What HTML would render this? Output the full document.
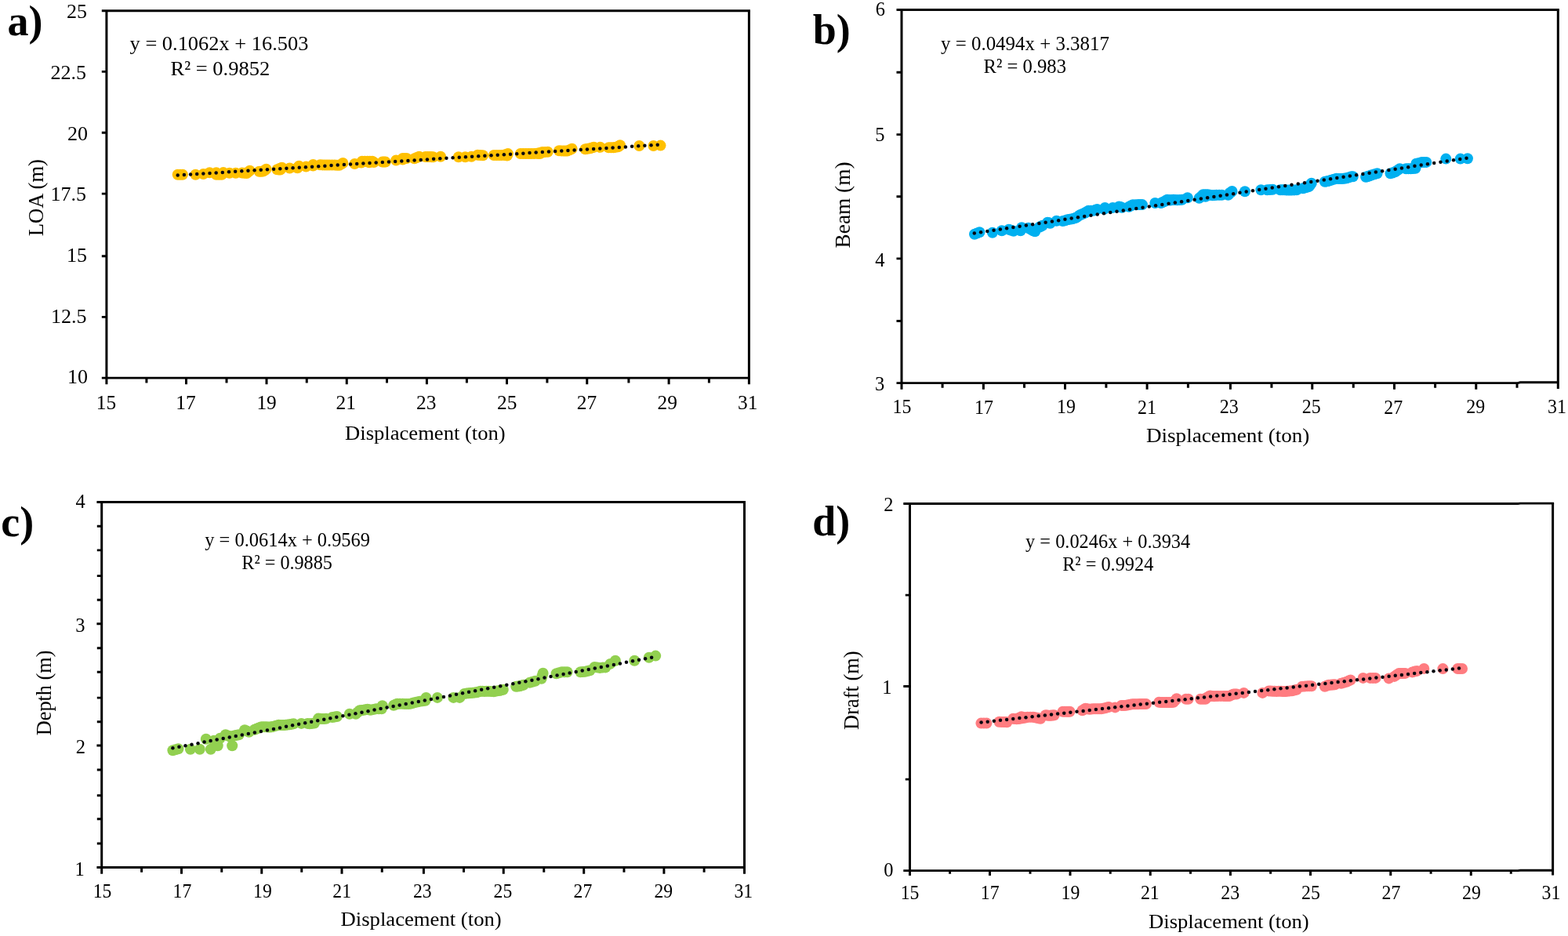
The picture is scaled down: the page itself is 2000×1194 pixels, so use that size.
<!DOCTYPE html>
<html lang="en">
<head>
<meta charset="utf-8">
<title>Hull dimensions versus displacement</title>
<style>
html,body{margin:0;padding:0;background:#fff;}
body{width:2000px;height:1194px;overflow:hidden;}
svg{display:block;}
text{white-space:pre;}
</style>
</head>
<body>
<svg width="2000" height="1194" viewBox="0 0 2000 1194" role="img" aria-label="Regression of LOA, beam, depth and draft against displacement">
<rect width="2000" height="1194" fill="#fff"/>
<g id="panel-a">
<g fill="#FFC000">
<circle cx="226.7" cy="222.8" r="7.0"/>
<circle cx="229.8" cy="222.8" r="7.0"/>
<circle cx="232.9" cy="222.8" r="7.0"/>
<circle cx="249.4" cy="222.8" r="7.0"/>
<circle cx="259.3" cy="222.1" r="7.0"/>
<circle cx="267.3" cy="220.3" r="7.0"/>
<circle cx="275.8" cy="220.3" r="7.0"/>
<circle cx="275.8" cy="222.8" r="7.0"/>
<circle cx="279.3" cy="222.8" r="7.0"/>
<circle cx="282.8" cy="222.8" r="7.0"/>
<circle cx="283.8" cy="221.5" r="7.0"/>
<circle cx="284.8" cy="220.1" r="7.0"/>
<circle cx="292.7" cy="220.8" r="7.0"/>
<circle cx="300.7" cy="220.8" r="7.0"/>
<circle cx="308.7" cy="220.6" r="7.0"/>
<circle cx="311.7" cy="220.8" r="7.0"/>
<circle cx="314.7" cy="221" r="7.0"/>
<circle cx="316.6" cy="219.4" r="7.0"/>
<circle cx="318.6" cy="217.8" r="7.0"/>
<circle cx="330.6" cy="218.8" r="7.0"/>
<circle cx="333.1" cy="218.7" r="7.0"/>
<circle cx="335.6" cy="218.5" r="7.0"/>
<circle cx="337.6" cy="217.2" r="7.0"/>
<circle cx="339.6" cy="215.8" r="7.0"/>
<circle cx="353.5" cy="216.3" r="7.0"/>
<circle cx="355.5" cy="216.4" r="7.0"/>
<circle cx="356.5" cy="215.1" r="7.0"/>
<circle cx="357.5" cy="216.5" r="7.0"/>
<circle cx="358.5" cy="215.2" r="7.0"/>
<circle cx="359.5" cy="213.8" r="7.0"/>
<circle cx="369.5" cy="214.5" r="7.0"/>
<circle cx="379.4" cy="214.3" r="7.0"/>
<circle cx="380.4" cy="213.1" r="7.0"/>
<circle cx="381.4" cy="211.8" r="7.0"/>
<circle cx="390.4" cy="212.6" r="7.0"/>
<circle cx="399.4" cy="210" r="7.0"/>
<circle cx="399.4" cy="211.6" r="7.0"/>
<circle cx="408.3" cy="210.3" r="7.0"/>
<circle cx="411.2" cy="210.4" r="7.0"/>
<circle cx="414" cy="210.6" r="7.0"/>
<circle cx="417" cy="210.6" r="7.0"/>
<circle cx="420" cy="210.6" r="7.0"/>
<circle cx="423.5" cy="210.6" r="7.0"/>
<circle cx="427" cy="210.6" r="7.0"/>
<circle cx="429.9" cy="210.7" r="7.0"/>
<circle cx="432.9" cy="210.8" r="7.0"/>
<circle cx="435.2" cy="209.4" r="7.0"/>
<circle cx="437.4" cy="208" r="7.0"/>
<circle cx="452.4" cy="209" r="7.0"/>
<circle cx="460.8" cy="207.6" r="7.0"/>
<circle cx="461.8" cy="205.8" r="7.0"/>
<circle cx="465.3" cy="205.8" r="7.0"/>
<circle cx="468.8" cy="205.8" r="7.0"/>
<circle cx="470.8" cy="207.3" r="7.0"/>
<circle cx="471.8" cy="205.8" r="7.0"/>
<circle cx="472.8" cy="206.5" r="7.0"/>
<circle cx="474.8" cy="205.8" r="7.0"/>
<circle cx="476.8" cy="207" r="7.0"/>
<circle cx="487.7" cy="206.6" r="7.0"/>
<circle cx="489.7" cy="206.6" r="7.0"/>
<circle cx="491.7" cy="206.6" r="7.0"/>
<circle cx="505.2" cy="204.5" r="7.0"/>
<circle cx="513.7" cy="202" r="7.0"/>
<circle cx="513.7" cy="203.6" r="7.0"/>
<circle cx="516.1" cy="202" r="7.0"/>
<circle cx="518.6" cy="202" r="7.0"/>
<circle cx="528.6" cy="202.3" r="7.0"/>
<circle cx="531.6" cy="201" r="7.0"/>
<circle cx="534.6" cy="199.8" r="7.0"/>
<circle cx="542.6" cy="200.1" r="7.0"/>
<circle cx="545.5" cy="200.1" r="7.0"/>
<circle cx="548.5" cy="200.1" r="7.0"/>
<circle cx="550.5" cy="200.2" r="7.0"/>
<circle cx="552.5" cy="200.3" r="7.0"/>
<circle cx="562" cy="199.8" r="7.0"/>
<circle cx="584.9" cy="200.3" r="7.0"/>
<circle cx="593.4" cy="200.3" r="7.0"/>
<circle cx="601.3" cy="199.8" r="7.0"/>
<circle cx="609.3" cy="197.8" r="7.0"/>
<circle cx="612.7" cy="198" r="7.0"/>
<circle cx="616" cy="198.3" r="7.0"/>
<circle cx="629.9" cy="198" r="7.0"/>
<circle cx="633.4" cy="198" r="7.0"/>
<circle cx="636.9" cy="198" r="7.0"/>
<circle cx="639.9" cy="197.9" r="7.0"/>
<circle cx="642.9" cy="197.8" r="7.0"/>
<circle cx="644.9" cy="198.1" r="7.0"/>
<circle cx="645.4" cy="196.9" r="7.0"/>
<circle cx="646.9" cy="198.5" r="7.0"/>
<circle cx="647.9" cy="196.1" r="7.0"/>
<circle cx="663.8" cy="196" r="7.0"/>
<circle cx="667.3" cy="196" r="7.0"/>
<circle cx="670.8" cy="196" r="7.0"/>
<circle cx="674.3" cy="196" r="7.0"/>
<circle cx="677.8" cy="196" r="7.0"/>
<circle cx="681.3" cy="195.9" r="7.0"/>
<circle cx="684.7" cy="195.8" r="7.0"/>
<circle cx="686.7" cy="195.9" r="7.0"/>
<circle cx="688.2" cy="194.9" r="7.0"/>
<circle cx="688.7" cy="196" r="7.0"/>
<circle cx="690.2" cy="195" r="7.0"/>
<circle cx="691.7" cy="194" r="7.0"/>
<circle cx="695.2" cy="193.9" r="7.0"/>
<circle cx="698.7" cy="193.8" r="7.0"/>
<circle cx="713.1" cy="192.3" r="7.0"/>
<circle cx="715.9" cy="192.4" r="7.0"/>
<circle cx="718.6" cy="192.5" r="7.0"/>
<circle cx="721.1" cy="192.5" r="7.0"/>
<circle cx="723.6" cy="192.6" r="7.0"/>
<circle cx="726.6" cy="191.2" r="7.0"/>
<circle cx="729.6" cy="189.8" r="7.0"/>
<circle cx="746.5" cy="190.3" r="7.0"/>
<circle cx="749.5" cy="189.8" r="7.0"/>
<circle cx="752.5" cy="189.3" r="7.0"/>
<circle cx="755" cy="188.5" r="7.0"/>
<circle cx="757.5" cy="187.8" r="7.0"/>
<circle cx="765.5" cy="187.8" r="7.0"/>
<circle cx="776.4" cy="188.3" r="7.0"/>
<circle cx="779.4" cy="188.3" r="7.0"/>
<circle cx="782.4" cy="188.3" r="7.0"/>
<circle cx="785.4" cy="187.8" r="7.0"/>
<circle cx="788.4" cy="187.3" r="7.0"/>
<circle cx="789.6" cy="186.3" r="7.0"/>
<circle cx="790.9" cy="185.3" r="7.0"/>
<circle cx="815.3" cy="186" r="7.0"/>
<circle cx="833.5" cy="186" r="7.0"/>
<circle cx="842.5" cy="185.6" r="7.0"/>
</g>
<g fill="#06060f">
<circle cx="226.7" cy="223.5" r="2.25"/>
<circle cx="234.86" cy="222.98" r="2.25"/>
<circle cx="243.02" cy="222.47" r="2.25"/>
<circle cx="251.18" cy="221.95" r="2.25"/>
<circle cx="259.34" cy="221.44" r="2.25"/>
<circle cx="267.5" cy="220.92" r="2.25"/>
<circle cx="275.66" cy="220.4" r="2.25"/>
<circle cx="283.82" cy="219.89" r="2.25"/>
<circle cx="291.98" cy="219.37" r="2.25"/>
<circle cx="300.14" cy="218.86" r="2.25"/>
<circle cx="308.3" cy="218.34" r="2.25"/>
<circle cx="316.46" cy="217.82" r="2.25"/>
<circle cx="324.62" cy="217.31" r="2.25"/>
<circle cx="332.78" cy="216.79" r="2.25"/>
<circle cx="340.94" cy="216.28" r="2.25"/>
<circle cx="349.1" cy="215.76" r="2.25"/>
<circle cx="357.26" cy="215.24" r="2.25"/>
<circle cx="365.42" cy="214.73" r="2.25"/>
<circle cx="373.58" cy="214.21" r="2.25"/>
<circle cx="381.74" cy="213.7" r="2.25"/>
<circle cx="389.9" cy="213.18" r="2.25"/>
<circle cx="398.06" cy="212.66" r="2.25"/>
<circle cx="406.22" cy="212.15" r="2.25"/>
<circle cx="414.38" cy="211.63" r="2.25"/>
<circle cx="422.54" cy="211.12" r="2.25"/>
<circle cx="430.7" cy="210.6" r="2.25"/>
<circle cx="438.86" cy="210.08" r="2.25"/>
<circle cx="447.02" cy="209.57" r="2.25"/>
<circle cx="455.18" cy="209.05" r="2.25"/>
<circle cx="463.34" cy="208.54" r="2.25"/>
<circle cx="471.5" cy="208.02" r="2.25"/>
<circle cx="479.66" cy="207.5" r="2.25"/>
<circle cx="487.82" cy="206.99" r="2.25"/>
<circle cx="495.98" cy="206.47" r="2.25"/>
<circle cx="504.14" cy="205.96" r="2.25"/>
<circle cx="512.3" cy="205.44" r="2.25"/>
<circle cx="520.46" cy="204.92" r="2.25"/>
<circle cx="528.62" cy="204.41" r="2.25"/>
<circle cx="536.78" cy="203.89" r="2.25"/>
<circle cx="544.94" cy="203.38" r="2.25"/>
<circle cx="553.1" cy="202.86" r="2.25"/>
<circle cx="561.26" cy="202.34" r="2.25"/>
<circle cx="569.42" cy="201.83" r="2.25"/>
<circle cx="577.58" cy="201.31" r="2.25"/>
<circle cx="585.74" cy="200.8" r="2.25"/>
<circle cx="593.9" cy="200.28" r="2.25"/>
<circle cx="602.06" cy="199.76" r="2.25"/>
<circle cx="610.22" cy="199.25" r="2.25"/>
<circle cx="618.38" cy="198.73" r="2.25"/>
<circle cx="626.54" cy="198.22" r="2.25"/>
<circle cx="634.7" cy="197.7" r="2.25"/>
<circle cx="642.86" cy="197.18" r="2.25"/>
<circle cx="651.02" cy="196.67" r="2.25"/>
<circle cx="659.18" cy="196.15" r="2.25"/>
<circle cx="667.34" cy="195.64" r="2.25"/>
<circle cx="675.5" cy="195.12" r="2.25"/>
<circle cx="683.66" cy="194.6" r="2.25"/>
<circle cx="691.82" cy="194.09" r="2.25"/>
<circle cx="699.98" cy="193.57" r="2.25"/>
<circle cx="708.14" cy="193.06" r="2.25"/>
<circle cx="716.3" cy="192.54" r="2.25"/>
<circle cx="724.46" cy="192.02" r="2.25"/>
<circle cx="732.62" cy="191.51" r="2.25"/>
<circle cx="740.78" cy="190.99" r="2.25"/>
<circle cx="748.94" cy="190.48" r="2.25"/>
<circle cx="757.1" cy="189.96" r="2.25"/>
<circle cx="765.26" cy="189.44" r="2.25"/>
<circle cx="773.42" cy="188.93" r="2.25"/>
<circle cx="781.58" cy="188.41" r="2.25"/>
<circle cx="789.74" cy="187.9" r="2.25"/>
<circle cx="797.9" cy="187.38" r="2.25"/>
<circle cx="806.06" cy="186.86" r="2.25"/>
<circle cx="814.22" cy="186.35" r="2.25"/>
<circle cx="822.38" cy="185.83" r="2.25"/>
<circle cx="830.54" cy="185.32" r="2.25"/>
<circle cx="838.7" cy="184.8" r="2.25"/>
</g>
<g stroke="#000" fill="none">
<path d="M129.8 13.8 H956.9" stroke-width="2.9"/>
<path d="M129.8 482.1 H955.4" stroke-width="2.9"/>
<path d="M135.9 13.8 V490.3 M955.4 13.8 V490.3" stroke-width="3.0"/>
<path d="M186.9 482.1v6.4M237.5 482.1v8.2M289 482.1v6.4M340 482.1v8.2M391.25 482.1v6.4M442.25 482.1v8.2M493.5 482.1v6.4M544.4 482.1v8.2M595.4 482.1v6.4M646.5 482.1v8.2M697.9 482.1v6.4M748.75 482.1v8.2M801.9 482.1v6.4M853.1 482.1v8.2M904.4 482.1v6.4" stroke-width="3.0"/>
<path d="M135.9 91.4h-6.1M135.9 169.2h-6.1M135.9 247.1h-6.1M135.9 326.8h-6.1M135.9 404.4h-6.1" stroke-width="2.9"/>
</g>
<g font-family="'Liberation Serif','DejaVu Serif',serif" fill="#000">
<text x="9.5" y="44.9" font-size="54" font-weight="bold">a)</text>
<g font-size="25.8">
<text transform="translate(84.95 23.4) scale(1.009 1)">25</text>
<text transform="translate(64.45 100.95) scale(1.009 1)">22.5</text>
<text transform="translate(86.05 178.85) scale(1.009 1)">20</text>
<text transform="translate(64.45 256.35) scale(1.009 1)">17.5</text>
<text transform="translate(85 333.95) scale(1.009 1)">15</text>
<text transform="translate(64.95 411.95) scale(1.009 1)">12.5</text>
<text transform="translate(85.95 489.45) scale(1.009 1)">10</text>
</g>
<g font-size="25.2">
<text transform="translate(122.75 522.1) scale(1.007 1)">15</text>
<text transform="translate(224.32 522.35) scale(1.007 1)">17</text>
<text transform="translate(327.38 522.1) scale(1.007 1)">19</text>
<text transform="translate(428.57 522.35) scale(1.007 1)">21</text>
<text transform="translate(531.12 522.1) scale(1.007 1)">23</text>
<text transform="translate(633.95 522.1) scale(1.007 1)">25</text>
<text transform="translate(735.75 522.35) scale(1.007 1)">27</text>
<text transform="translate(838.62 522.1) scale(1.007 1)">29</text>
<text transform="translate(940.95 522.1) scale(1.007 1)">31</text>
</g>
<g font-size="25.8">
<text x="440.08" y="560.6" textLength="204.65" lengthAdjust="spacingAndGlyphs">Displacement (ton)</text>
<text x="165.59" y="63.75" textLength="227.76" lengthAdjust="spacingAndGlyphs">y = 0.1062x + 16.503</text>
<text x="217.58" y="96.25" textLength="126.65" lengthAdjust="spacingAndGlyphs">R² = 0.9852</text>
</g>
<text transform="translate(54.7 301.24) rotate(-90)" font-size="26.8" textLength="98.22" lengthAdjust="spacingAndGlyphs">LOA (m)</text>
</g>
</g>
<g id="panel-b">
<g fill="#00B0F0">
<circle cx="1243" cy="298.7" r="7.0"/>
<circle cx="1246.2" cy="297.5" r="7.0"/>
<circle cx="1249.4" cy="296.3" r="7.0"/>
<circle cx="1265.9" cy="296.7" r="7.0"/>
<circle cx="1277.8" cy="294.3" r="7.0"/>
<circle cx="1286.8" cy="292.8" r="7.0"/>
<circle cx="1289.8" cy="293.8" r="7.0"/>
<circle cx="1292.8" cy="294.8" r="7.0"/>
<circle cx="1301.7" cy="294.3" r="7.0"/>
<circle cx="1302.5" cy="292.3" r="7.0"/>
<circle cx="1303.2" cy="290.3" r="7.0"/>
<circle cx="1311.7" cy="290.8" r="7.0"/>
<circle cx="1314.2" cy="292.3" r="7.0"/>
<circle cx="1316.7" cy="293.8" r="7.0"/>
<circle cx="1318.4" cy="294.5" r="7.0"/>
<circle cx="1320.2" cy="295.3" r="7.0"/>
<circle cx="1325.7" cy="289.8" r="7.0"/>
<circle cx="1327.7" cy="288.8" r="7.0"/>
<circle cx="1329.7" cy="287.8" r="7.0"/>
<circle cx="1336.1" cy="283.8" r="7.0"/>
<circle cx="1337.9" cy="284.3" r="7.0"/>
<circle cx="1339.6" cy="284.8" r="7.0"/>
<circle cx="1347.6" cy="281.8" r="7.0"/>
<circle cx="1355.6" cy="282" r="7.0"/>
<circle cx="1358.6" cy="281.2" r="7.0"/>
<circle cx="1361.5" cy="280.3" r="7.0"/>
<circle cx="1364.5" cy="279.8" r="7.0"/>
<circle cx="1367.5" cy="279.3" r="7.0"/>
<circle cx="1370" cy="278.6" r="7.0"/>
<circle cx="1372.5" cy="277.8" r="7.0"/>
<circle cx="1375" cy="276.1" r="7.0"/>
<circle cx="1377.5" cy="274.3" r="7.0"/>
<circle cx="1380" cy="273.3" r="7.0"/>
<circle cx="1382.5" cy="272.3" r="7.0"/>
<circle cx="1384.5" cy="271.3" r="7.0"/>
<circle cx="1385.5" cy="270.6" r="7.0"/>
<circle cx="1388.4" cy="268.8" r="7.0"/>
<circle cx="1391.4" cy="268.8" r="7.0"/>
<circle cx="1394.4" cy="268.8" r="7.0"/>
<circle cx="1396.9" cy="267.9" r="7.0"/>
<circle cx="1399.4" cy="266.9" r="7.0"/>
<circle cx="1408.4" cy="266.9" r="7.0"/>
<circle cx="1409.4" cy="264.9" r="7.0"/>
<circle cx="1419.3" cy="264.9" r="7.0"/>
<circle cx="1427.3" cy="263.4" r="7.0"/>
<circle cx="1429.2" cy="264.1" r="7.0"/>
<circle cx="1431" cy="264.8" r="7.0"/>
<circle cx="1440" cy="263.8" r="7.0"/>
<circle cx="1442.5" cy="262.5" r="7.0"/>
<circle cx="1444.9" cy="261.3" r="7.0"/>
<circle cx="1448.4" cy="261.2" r="7.0"/>
<circle cx="1451.9" cy="261.1" r="7.0"/>
<circle cx="1454.4" cy="261.1" r="7.0"/>
<circle cx="1456.9" cy="261.1" r="7.0"/>
<circle cx="1473.3" cy="259" r="7.0"/>
<circle cx="1480.8" cy="259" r="7.0"/>
<circle cx="1482.8" cy="258.1" r="7.0"/>
<circle cx="1484.8" cy="257.3" r="7.0"/>
<circle cx="1486.8" cy="256" r="7.0"/>
<circle cx="1488.8" cy="254.8" r="7.0"/>
<circle cx="1490.8" cy="255.1" r="7.0"/>
<circle cx="1492.8" cy="255.5" r="7.0"/>
<circle cx="1494.8" cy="255.1" r="7.0"/>
<circle cx="1496.8" cy="254.8" r="7.0"/>
<circle cx="1499.3" cy="255" r="7.0"/>
<circle cx="1501.7" cy="255.3" r="7.0"/>
<circle cx="1504.7" cy="255" r="7.0"/>
<circle cx="1507.7" cy="254.8" r="7.0"/>
<circle cx="1514.7" cy="252.3" r="7.0"/>
<circle cx="1529.6" cy="252.8" r="7.0"/>
<circle cx="1532.1" cy="250.6" r="7.0"/>
<circle cx="1534.6" cy="248.3" r="7.0"/>
<circle cx="1536.1" cy="249.6" r="7.0"/>
<circle cx="1537.6" cy="248.3" r="7.0"/>
<circle cx="1537.6" cy="250.8" r="7.0"/>
<circle cx="1539.1" cy="249.6" r="7.0"/>
<circle cx="1540.6" cy="248.3" r="7.0"/>
<circle cx="1543.6" cy="248.8" r="7.0"/>
<circle cx="1546.6" cy="249.3" r="7.0"/>
<circle cx="1549.1" cy="249.1" r="7.0"/>
<circle cx="1551.6" cy="248.8" r="7.0"/>
<circle cx="1555.1" cy="248.8" r="7.0"/>
<circle cx="1558.5" cy="248.8" r="7.0"/>
<circle cx="1566.5" cy="248.8" r="7.0"/>
<circle cx="1567.5" cy="247.6" r="7.0"/>
<circle cx="1568.5" cy="246.3" r="7.0"/>
<circle cx="1570" cy="245.2" r="7.0"/>
<circle cx="1571.5" cy="244" r="7.0"/>
<circle cx="1587.9" cy="244.3" r="7.0"/>
<circle cx="1608.4" cy="242.3" r="7.0"/>
<circle cx="1616.3" cy="242.3" r="7.0"/>
<circle cx="1619.8" cy="242.1" r="7.0"/>
<circle cx="1623.3" cy="241.8" r="7.0"/>
<circle cx="1633" cy="242.2" r="7.0"/>
<circle cx="1635.5" cy="242.2" r="7.0"/>
<circle cx="1638" cy="242.2" r="7.0"/>
<circle cx="1640.5" cy="242.4" r="7.0"/>
<circle cx="1642.9" cy="242.5" r="7.0"/>
<circle cx="1645.4" cy="242.5" r="7.0"/>
<circle cx="1647.9" cy="242.5" r="7.0"/>
<circle cx="1650.9" cy="242.4" r="7.0"/>
<circle cx="1653.9" cy="242.2" r="7.0"/>
<circle cx="1661.9" cy="240.2" r="7.0"/>
<circle cx="1664.4" cy="239.5" r="7.0"/>
<circle cx="1666.9" cy="238.7" r="7.0"/>
<circle cx="1668.4" cy="238.2" r="7.0"/>
<circle cx="1669.9" cy="237.7" r="7.0"/>
<circle cx="1671.3" cy="235.8" r="7.0"/>
<circle cx="1672.8" cy="233.8" r="7.0"/>
<circle cx="1689.8" cy="231.8" r="7.0"/>
<circle cx="1691.8" cy="231.4" r="7.0"/>
<circle cx="1693.8" cy="231" r="7.0"/>
<circle cx="1695.8" cy="230.4" r="7.0"/>
<circle cx="1697.8" cy="229.8" r="7.0"/>
<circle cx="1701.2" cy="228.8" r="7.0"/>
<circle cx="1704.7" cy="227.8" r="7.0"/>
<circle cx="1707.2" cy="227.9" r="7.0"/>
<circle cx="1709.7" cy="228" r="7.0"/>
<circle cx="1711.7" cy="227.9" r="7.0"/>
<circle cx="1713.7" cy="227.8" r="7.0"/>
<circle cx="1715.7" cy="227.5" r="7.0"/>
<circle cx="1717.7" cy="227.3" r="7.0"/>
<circle cx="1720.7" cy="226.3" r="7.0"/>
<circle cx="1723.7" cy="225.3" r="7.0"/>
<circle cx="1725.7" cy="225.3" r="7.0"/>
<circle cx="1742.1" cy="225.8" r="7.0"/>
<circle cx="1743.8" cy="225.3" r="7.0"/>
<circle cx="1745.6" cy="224.8" r="7.0"/>
<circle cx="1747.6" cy="224" r="7.0"/>
<circle cx="1749.6" cy="223.3" r="7.0"/>
<circle cx="1753.1" cy="222.3" r="7.0"/>
<circle cx="1756.6" cy="221.3" r="7.0"/>
<circle cx="1773.5" cy="221.3" r="7.0"/>
<circle cx="1776.5" cy="220.3" r="7.0"/>
<circle cx="1779.5" cy="219.3" r="7.0"/>
<circle cx="1782.5" cy="217.3" r="7.0"/>
<circle cx="1785.4" cy="215.3" r="7.0"/>
<circle cx="1793.4" cy="215.3" r="7.0"/>
<circle cx="1796.4" cy="215.3" r="7.0"/>
<circle cx="1799.4" cy="215.3" r="7.0"/>
<circle cx="1802.4" cy="215.1" r="7.0"/>
<circle cx="1805.4" cy="214.8" r="7.0"/>
<circle cx="1805.9" cy="211.8" r="7.0"/>
<circle cx="1806.4" cy="208.8" r="7.0"/>
<circle cx="1809.9" cy="207.9" r="7.0"/>
<circle cx="1813.4" cy="206.9" r="7.0"/>
<circle cx="1816.3" cy="206.9" r="7.0"/>
<circle cx="1819.3" cy="206.9" r="7.0"/>
<circle cx="1844.3" cy="202.6" r="7.0"/>
<circle cx="1862.7" cy="202.6" r="7.0"/>
<circle cx="1871.9" cy="202.3" r="7.0"/>
</g>
<g fill="#06060f">
<circle cx="1242.8" cy="297.5" r="2.25"/>
<circle cx="1251.06" cy="296.24" r="2.25"/>
<circle cx="1259.32" cy="294.98" r="2.25"/>
<circle cx="1267.58" cy="293.72" r="2.25"/>
<circle cx="1275.84" cy="292.46" r="2.25"/>
<circle cx="1284.1" cy="291.2" r="2.25"/>
<circle cx="1292.36" cy="289.94" r="2.25"/>
<circle cx="1300.61" cy="288.69" r="2.25"/>
<circle cx="1308.87" cy="287.43" r="2.25"/>
<circle cx="1317.13" cy="286.17" r="2.25"/>
<circle cx="1325.39" cy="284.91" r="2.25"/>
<circle cx="1333.65" cy="283.65" r="2.25"/>
<circle cx="1341.91" cy="282.39" r="2.25"/>
<circle cx="1350.17" cy="281.13" r="2.25"/>
<circle cx="1358.43" cy="279.87" r="2.25"/>
<circle cx="1366.69" cy="278.61" r="2.25"/>
<circle cx="1374.95" cy="277.35" r="2.25"/>
<circle cx="1383.21" cy="276.09" r="2.25"/>
<circle cx="1391.47" cy="274.83" r="2.25"/>
<circle cx="1399.72" cy="273.57" r="2.25"/>
<circle cx="1407.98" cy="272.32" r="2.25"/>
<circle cx="1416.24" cy="271.06" r="2.25"/>
<circle cx="1424.5" cy="269.8" r="2.25"/>
<circle cx="1432.76" cy="268.54" r="2.25"/>
<circle cx="1441.02" cy="267.28" r="2.25"/>
<circle cx="1449.28" cy="266.02" r="2.25"/>
<circle cx="1457.54" cy="264.76" r="2.25"/>
<circle cx="1465.8" cy="263.5" r="2.25"/>
<circle cx="1474.06" cy="262.24" r="2.25"/>
<circle cx="1482.32" cy="260.98" r="2.25"/>
<circle cx="1490.58" cy="259.72" r="2.25"/>
<circle cx="1498.84" cy="258.46" r="2.25"/>
<circle cx="1507.09" cy="257.21" r="2.25"/>
<circle cx="1515.35" cy="255.95" r="2.25"/>
<circle cx="1523.61" cy="254.69" r="2.25"/>
<circle cx="1531.87" cy="253.43" r="2.25"/>
<circle cx="1540.13" cy="252.17" r="2.25"/>
<circle cx="1548.39" cy="250.91" r="2.25"/>
<circle cx="1556.65" cy="249.65" r="2.25"/>
<circle cx="1564.91" cy="248.39" r="2.25"/>
<circle cx="1573.17" cy="247.13" r="2.25"/>
<circle cx="1581.43" cy="245.87" r="2.25"/>
<circle cx="1589.69" cy="244.61" r="2.25"/>
<circle cx="1597.95" cy="243.35" r="2.25"/>
<circle cx="1606.21" cy="242.09" r="2.25"/>
<circle cx="1614.46" cy="240.84" r="2.25"/>
<circle cx="1622.72" cy="239.58" r="2.25"/>
<circle cx="1630.98" cy="238.32" r="2.25"/>
<circle cx="1639.24" cy="237.06" r="2.25"/>
<circle cx="1647.5" cy="235.8" r="2.25"/>
<circle cx="1655.76" cy="234.54" r="2.25"/>
<circle cx="1664.02" cy="233.28" r="2.25"/>
<circle cx="1672.28" cy="232.02" r="2.25"/>
<circle cx="1680.54" cy="230.76" r="2.25"/>
<circle cx="1688.8" cy="229.5" r="2.25"/>
<circle cx="1697.06" cy="228.24" r="2.25"/>
<circle cx="1705.32" cy="226.98" r="2.25"/>
<circle cx="1713.58" cy="225.73" r="2.25"/>
<circle cx="1721.83" cy="224.47" r="2.25"/>
<circle cx="1730.09" cy="223.21" r="2.25"/>
<circle cx="1738.35" cy="221.95" r="2.25"/>
<circle cx="1746.61" cy="220.69" r="2.25"/>
<circle cx="1754.87" cy="219.43" r="2.25"/>
<circle cx="1763.13" cy="218.17" r="2.25"/>
<circle cx="1771.39" cy="216.91" r="2.25"/>
<circle cx="1779.65" cy="215.65" r="2.25"/>
<circle cx="1787.91" cy="214.39" r="2.25"/>
<circle cx="1796.17" cy="213.13" r="2.25"/>
<circle cx="1804.43" cy="211.87" r="2.25"/>
<circle cx="1812.69" cy="210.61" r="2.25"/>
<circle cx="1820.94" cy="209.36" r="2.25"/>
<circle cx="1829.2" cy="208.1" r="2.25"/>
<circle cx="1837.46" cy="206.84" r="2.25"/>
<circle cx="1845.72" cy="205.58" r="2.25"/>
<circle cx="1853.98" cy="204.32" r="2.25"/>
<circle cx="1862.24" cy="203.06" r="2.25"/>
<circle cx="1870.5" cy="201.8" r="2.25"/>
</g>
<g stroke="#000" fill="none">
<path d="M1143.5 12.5 H1936 L1939 12.5 H1988.8" stroke-width="2.9"/>
<path d="M1143.5 488.6 H1936 L1939 487.8 H1987.3" stroke-width="2.9"/>
<path d="M1150 12.5 V496.7 M1987.3 12.5 V495.9" stroke-width="3.0"/>
<path d="M1202.1 488.6v6.2M1254.4 488.6v8.1M1306.5 488.6v6.2M1358.5 488.6v8.1M1410.9 488.6v6.2M1463.1 488.6v8.1M1515.4 488.6v6.2M1569.4 488.6v8.1M1621.9 488.6v6.2M1673.75 488.6v8.1M1726.25 488.6v6.2M1778.45 488.6v8.1M1830.6 488.6v6.2M1882.75 488.6v8.1M1935 488.6v6.2" stroke-width="3.0"/>
<path d="M1150 92.2h-6.5M1150 171.6h-6.5M1150 250.75h-6.5M1150 329.9h-6.5M1150 409.45h-6.5" stroke-width="2.9"/>
</g>
<g font-family="'Liberation Serif','DejaVu Serif',serif" fill="#000">
<text x="1036.8" y="55.9" font-size="54" font-weight="bold">b)</text>
<g font-size="25.8">
<text transform="translate(1116.65 19.75) scale(0.95 1)">6</text>
<text transform="translate(1116.3 180.45) scale(0.95 1)">5</text>
<text transform="translate(1116.2 339.85) scale(0.95 1)">4</text>
<text transform="translate(1115.9 498.45) scale(0.95 1)">3</text>
</g>
<g font-size="25.2">
<text transform="translate(1138.6 527.35) scale(0.949 1)">15</text>
<text transform="translate(1243 527.6) scale(0.949 1)">17</text>
<text transform="translate(1348.12 527.35) scale(0.949 1)">19</text>
<text transform="translate(1451.08 527.6) scale(0.949 1)">21</text>
<text transform="translate(1555.83 527.35) scale(0.949 1)">23</text>
<text transform="translate(1660.83 527.35) scale(0.949 1)">25</text>
<text transform="translate(1765.28 527.6) scale(0.949 1)">27</text>
<text transform="translate(1870.2 527.35) scale(0.949 1)">29</text>
<text transform="translate(1974.08 527.35) scale(0.949 1)">31</text>
</g>
<g font-size="25.8">
<text x="1461.96" y="564.2" textLength="208.44" lengthAdjust="spacingAndGlyphs">Displacement (ton)</text>
<text x="1200.01" y="63.75" textLength="214.94" lengthAdjust="spacingAndGlyphs">y = 0.0494x + 3.3817</text>
<text x="1254.53" y="93.1" textLength="105.51" lengthAdjust="spacingAndGlyphs">R² = 0.983</text>
</g>
<text transform="translate(1083.6 316.41) rotate(-90)" font-size="26.8" textLength="109.94" lengthAdjust="spacingAndGlyphs">Beam (m)</text>
</g>
</g>
<g id="panel-c">
<g fill="#92D050">
<circle cx="220.4" cy="957.2" r="7.0"/>
<circle cx="223.9" cy="956.2" r="7.0"/>
<circle cx="227.4" cy="955.2" r="7.0"/>
<circle cx="242.9" cy="955.7" r="7.0"/>
<circle cx="254.8" cy="955.7" r="7.0"/>
<circle cx="262.8" cy="942.8" r="7.0"/>
<circle cx="268.8" cy="955.7" r="7.0"/>
<circle cx="272.8" cy="944.8" r="7.0"/>
<circle cx="277.7" cy="951.3" r="7.0"/>
<circle cx="280.7" cy="941.8" r="7.0"/>
<circle cx="287.7" cy="937.3" r="7.0"/>
<circle cx="290.7" cy="938.5" r="7.0"/>
<circle cx="293.7" cy="939.8" r="7.0"/>
<circle cx="296.2" cy="951.3" r="7.0"/>
<circle cx="296.7" cy="939" r="7.0"/>
<circle cx="299.7" cy="938.3" r="7.0"/>
<circle cx="302.2" cy="937.8" r="7.0"/>
<circle cx="304.7" cy="937.3" r="7.0"/>
<circle cx="312.1" cy="931.3" r="7.0"/>
<circle cx="314.9" cy="932.6" r="7.0"/>
<circle cx="317.6" cy="933.8" r="7.0"/>
<circle cx="324.6" cy="930.8" r="7.0"/>
<circle cx="327.1" cy="929.8" r="7.0"/>
<circle cx="329.6" cy="928.8" r="7.0"/>
<circle cx="331.6" cy="928.1" r="7.0"/>
<circle cx="333.6" cy="927.3" r="7.0"/>
<circle cx="336.5" cy="927.3" r="7.0"/>
<circle cx="339.5" cy="927.3" r="7.0"/>
<circle cx="342" cy="927.5" r="7.0"/>
<circle cx="344.5" cy="927.6" r="7.0"/>
<circle cx="346.5" cy="927.2" r="7.0"/>
<circle cx="348.5" cy="926.8" r="7.0"/>
<circle cx="352" cy="925.8" r="7.0"/>
<circle cx="355.5" cy="924.8" r="7.0"/>
<circle cx="358" cy="924.9" r="7.0"/>
<circle cx="360.5" cy="925" r="7.0"/>
<circle cx="362.4" cy="924.9" r="7.0"/>
<circle cx="364.4" cy="924.8" r="7.0"/>
<circle cx="366.9" cy="924.6" r="7.0"/>
<circle cx="369.4" cy="924.3" r="7.0"/>
<circle cx="371.9" cy="923.8" r="7.0"/>
<circle cx="374.4" cy="923.3" r="7.0"/>
<circle cx="384.4" cy="922.9" r="7.0"/>
<circle cx="392.3" cy="922.9" r="7.0"/>
<circle cx="395" cy="923.2" r="7.0"/>
<circle cx="398" cy="922.9" r="7.0"/>
<circle cx="401" cy="922.5" r="7.0"/>
<circle cx="406" cy="916.6" r="7.0"/>
<circle cx="408.4" cy="916.8" r="7.0"/>
<circle cx="410.9" cy="917" r="7.0"/>
<circle cx="413.4" cy="916.9" r="7.0"/>
<circle cx="415.9" cy="916.8" r="7.0"/>
<circle cx="423.9" cy="915" r="7.0"/>
<circle cx="426.9" cy="914.5" r="7.0"/>
<circle cx="429.9" cy="914" r="7.0"/>
<circle cx="445.8" cy="910.8" r="7.0"/>
<circle cx="453.8" cy="910.8" r="7.0"/>
<circle cx="456.3" cy="908.5" r="7.0"/>
<circle cx="458.8" cy="906.3" r="7.0"/>
<circle cx="461.3" cy="906.1" r="7.0"/>
<circle cx="463.8" cy="905.8" r="7.0"/>
<circle cx="466.2" cy="905.3" r="7.0"/>
<circle cx="468.7" cy="904.8" r="7.0"/>
<circle cx="470.7" cy="905.3" r="7.0"/>
<circle cx="472.7" cy="905.8" r="7.0"/>
<circle cx="476.2" cy="905.1" r="7.0"/>
<circle cx="479.7" cy="904.3" r="7.0"/>
<circle cx="483.2" cy="904.3" r="7.0"/>
<circle cx="486.7" cy="904.3" r="7.0"/>
<circle cx="487.2" cy="902.3" r="7.0"/>
<circle cx="487.7" cy="900.3" r="7.0"/>
<circle cx="502.1" cy="899.8" r="7.0"/>
<circle cx="504.4" cy="898.8" r="7.0"/>
<circle cx="506.6" cy="897.8" r="7.0"/>
<circle cx="510.1" cy="897.8" r="7.0"/>
<circle cx="513.6" cy="897.8" r="7.0"/>
<circle cx="516.1" cy="897.9" r="7.0"/>
<circle cx="518.6" cy="898" r="7.0"/>
<circle cx="521.1" cy="897.9" r="7.0"/>
<circle cx="523.5" cy="897.8" r="7.0"/>
<circle cx="526" cy="897.1" r="7.0"/>
<circle cx="528.5" cy="896.3" r="7.0"/>
<circle cx="532" cy="895.6" r="7.0"/>
<circle cx="535.5" cy="894.8" r="7.0"/>
<circle cx="539" cy="894.3" r="7.0"/>
<circle cx="542.5" cy="893.8" r="7.0"/>
<circle cx="543" cy="891.9" r="7.0"/>
<circle cx="543.5" cy="889.9" r="7.0"/>
<circle cx="557.9" cy="889.9" r="7.0"/>
<circle cx="578.4" cy="889.9" r="7.0"/>
<circle cx="586.3" cy="889.9" r="7.0"/>
<circle cx="592.3" cy="884.9" r="7.0"/>
<circle cx="595.1" cy="884.6" r="7.0"/>
<circle cx="597.9" cy="884.2" r="7.0"/>
<circle cx="600.4" cy="884" r="7.0"/>
<circle cx="602.9" cy="883.7" r="7.0"/>
<circle cx="605.4" cy="883.5" r="7.0"/>
<circle cx="607.9" cy="883.2" r="7.0"/>
<circle cx="610.4" cy="882.5" r="7.0"/>
<circle cx="612.9" cy="881.7" r="7.0"/>
<circle cx="615.4" cy="881.8" r="7.0"/>
<circle cx="617.9" cy="881.9" r="7.0"/>
<circle cx="620.4" cy="881.8" r="7.0"/>
<circle cx="622.9" cy="881.7" r="7.0"/>
<circle cx="626.3" cy="882" r="7.0"/>
<circle cx="629.8" cy="882.2" r="7.0"/>
<circle cx="633.3" cy="881.6" r="7.0"/>
<circle cx="636.8" cy="881" r="7.0"/>
<circle cx="639.3" cy="880.4" r="7.0"/>
<circle cx="641.8" cy="879.8" r="7.0"/>
<circle cx="658.2" cy="875.8" r="7.0"/>
<circle cx="660.5" cy="875.5" r="7.0"/>
<circle cx="662.7" cy="875.3" r="7.0"/>
<circle cx="665.2" cy="874.5" r="7.0"/>
<circle cx="667.7" cy="873.8" r="7.0"/>
<circle cx="675.7" cy="870.8" r="7.0"/>
<circle cx="679.2" cy="869.8" r="7.0"/>
<circle cx="682.7" cy="868.8" r="7.0"/>
<circle cx="690.6" cy="865.8" r="7.0"/>
<circle cx="691.6" cy="862.3" r="7.0"/>
<circle cx="692.6" cy="858.8" r="7.0"/>
<circle cx="709.6" cy="859.3" r="7.0"/>
<circle cx="713" cy="858.3" r="7.0"/>
<circle cx="716.5" cy="857.3" r="7.0"/>
<circle cx="720" cy="857.3" r="7.0"/>
<circle cx="723.5" cy="857.3" r="7.0"/>
<circle cx="740.4" cy="857.3" r="7.0"/>
<circle cx="743.4" cy="857.1" r="7.0"/>
<circle cx="746.4" cy="856.8" r="7.0"/>
<circle cx="749.4" cy="856.1" r="7.0"/>
<circle cx="752.4" cy="855.3" r="7.0"/>
<circle cx="758.4" cy="850.9" r="7.0"/>
<circle cx="761.9" cy="851.4" r="7.0"/>
<circle cx="765.4" cy="851.9" r="7.0"/>
<circle cx="768.8" cy="851.6" r="7.0"/>
<circle cx="772.3" cy="851.4" r="7.0"/>
<circle cx="778.3" cy="846.9" r="7.0"/>
<circle cx="784.9" cy="842.8" r="7.0"/>
<circle cx="809.3" cy="842.8" r="7.0"/>
<circle cx="827.8" cy="838.8" r="7.0"/>
<circle cx="836.2" cy="836.6" r="7.0"/>
</g>
<g fill="#06060f">
<circle cx="220.4" cy="954.2" r="2.25"/>
<circle cx="228.44" cy="952.68" r="2.25"/>
<circle cx="236.47" cy="951.16" r="2.25"/>
<circle cx="244.51" cy="949.64" r="2.25"/>
<circle cx="252.54" cy="948.13" r="2.25"/>
<circle cx="260.58" cy="946.61" r="2.25"/>
<circle cx="268.61" cy="945.09" r="2.25"/>
<circle cx="276.65" cy="943.57" r="2.25"/>
<circle cx="284.68" cy="942.05" r="2.25"/>
<circle cx="292.72" cy="940.53" r="2.25"/>
<circle cx="300.76" cy="939.02" r="2.25"/>
<circle cx="308.79" cy="937.5" r="2.25"/>
<circle cx="316.83" cy="935.98" r="2.25"/>
<circle cx="324.86" cy="934.46" r="2.25"/>
<circle cx="332.9" cy="932.94" r="2.25"/>
<circle cx="340.93" cy="931.42" r="2.25"/>
<circle cx="348.97" cy="929.91" r="2.25"/>
<circle cx="357" cy="928.39" r="2.25"/>
<circle cx="365.04" cy="926.87" r="2.25"/>
<circle cx="373.08" cy="925.35" r="2.25"/>
<circle cx="381.11" cy="923.83" r="2.25"/>
<circle cx="389.15" cy="922.31" r="2.25"/>
<circle cx="397.18" cy="920.79" r="2.25"/>
<circle cx="405.22" cy="919.28" r="2.25"/>
<circle cx="413.25" cy="917.76" r="2.25"/>
<circle cx="421.29" cy="916.24" r="2.25"/>
<circle cx="429.32" cy="914.72" r="2.25"/>
<circle cx="437.36" cy="913.2" r="2.25"/>
<circle cx="445.39" cy="911.68" r="2.25"/>
<circle cx="453.43" cy="910.17" r="2.25"/>
<circle cx="461.47" cy="908.65" r="2.25"/>
<circle cx="469.5" cy="907.13" r="2.25"/>
<circle cx="477.54" cy="905.61" r="2.25"/>
<circle cx="485.57" cy="904.09" r="2.25"/>
<circle cx="493.61" cy="902.57" r="2.25"/>
<circle cx="501.64" cy="901.06" r="2.25"/>
<circle cx="509.68" cy="899.54" r="2.25"/>
<circle cx="517.71" cy="898.02" r="2.25"/>
<circle cx="525.75" cy="896.5" r="2.25"/>
<circle cx="533.79" cy="894.98" r="2.25"/>
<circle cx="541.82" cy="893.46" r="2.25"/>
<circle cx="549.86" cy="891.94" r="2.25"/>
<circle cx="557.89" cy="890.43" r="2.25"/>
<circle cx="565.93" cy="888.91" r="2.25"/>
<circle cx="573.96" cy="887.39" r="2.25"/>
<circle cx="582" cy="885.87" r="2.25"/>
<circle cx="590.03" cy="884.35" r="2.25"/>
<circle cx="598.07" cy="882.83" r="2.25"/>
<circle cx="606.11" cy="881.32" r="2.25"/>
<circle cx="614.14" cy="879.8" r="2.25"/>
<circle cx="622.18" cy="878.28" r="2.25"/>
<circle cx="630.21" cy="876.76" r="2.25"/>
<circle cx="638.25" cy="875.24" r="2.25"/>
<circle cx="646.28" cy="873.72" r="2.25"/>
<circle cx="654.32" cy="872.21" r="2.25"/>
<circle cx="662.35" cy="870.69" r="2.25"/>
<circle cx="670.39" cy="869.17" r="2.25"/>
<circle cx="678.43" cy="867.65" r="2.25"/>
<circle cx="686.46" cy="866.13" r="2.25"/>
<circle cx="694.5" cy="864.61" r="2.25"/>
<circle cx="702.53" cy="863.09" r="2.25"/>
<circle cx="710.57" cy="861.58" r="2.25"/>
<circle cx="718.6" cy="860.06" r="2.25"/>
<circle cx="726.64" cy="858.54" r="2.25"/>
<circle cx="734.67" cy="857.02" r="2.25"/>
<circle cx="742.71" cy="855.5" r="2.25"/>
<circle cx="750.74" cy="853.98" r="2.25"/>
<circle cx="758.78" cy="852.47" r="2.25"/>
<circle cx="766.82" cy="850.95" r="2.25"/>
<circle cx="774.85" cy="849.43" r="2.25"/>
<circle cx="782.89" cy="847.91" r="2.25"/>
<circle cx="790.92" cy="846.39" r="2.25"/>
<circle cx="798.96" cy="844.87" r="2.25"/>
<circle cx="806.99" cy="843.36" r="2.25"/>
<circle cx="815.03" cy="841.84" r="2.25"/>
<circle cx="823.06" cy="840.32" r="2.25"/>
<circle cx="831.1" cy="838.8" r="2.25"/>
</g>
<g stroke="#000" fill="none">
<path d="M123.4 640.5 H951" stroke-width="2.9"/>
<path d="M123.4 1106.5 H949.5" stroke-width="2.9"/>
<path d="M129.7 640.5 V1114.7 M949.5 640.5 V1114.7" stroke-width="3.0"/>
<path d="M180.6 1106.5v6.3M231.5 1106.5v8.2M282.75 1106.5v6.3M333.75 1106.5v8.2M384.75 1106.5v6.3M436 1106.5v8.2M487.25 1106.5v6.3M540.4 1106.5v8.2M591.5 1106.5v6.3M642.25 1106.5v8.2M693.75 1106.5v6.3M744.7 1106.5v8.2M795.95 1106.5v6.3M846.9 1106.5v8.2M898.1 1106.5v6.3" stroke-width="3.0"/>
<path d="M129.7 671.3h-5.9M129.7 701.9h-5.9M129.7 734.6h-5.9M129.7 765.2h-5.9M129.7 795.7h-6.3M129.7 826.7h-5.9M129.7 857.3h-5.9M129.7 890.1h-5.9M129.7 920.7h-5.9M129.7 951h-6.3M129.7 982h-5.9M129.7 1014.8h-5.9M129.7 1044.7h-5.9M129.7 1076h-5.9" stroke-width="2.9"/>
</g>
<g font-family="'Liberation Serif','DejaVu Serif',serif" fill="#000">
<text x="1.3" y="683.8" font-size="54" font-weight="bold">c)</text>
<g font-size="25.8">
<text transform="translate(96.4 647.6) scale(0.95 1)">4</text>
<text transform="translate(96.2 805.95) scale(0.95 1)">3</text>
<text transform="translate(96.75 961) scale(0.95 1)">2</text>
<text transform="translate(95.6 1116.5) scale(0.95 1)">1</text>
</g>
<g font-size="25.2">
<text transform="translate(118.72 1145.1) scale(0.938 1)">15</text>
<text transform="translate(220.62 1145.35) scale(0.938 1)">17</text>
<text transform="translate(323.12 1145.1) scale(0.938 1)">19</text>
<text transform="translate(424.32 1145.35) scale(0.938 1)">21</text>
<text transform="translate(526.88 1145.1) scale(0.938 1)">23</text>
<text transform="translate(629.58 1145.1) scale(0.938 1)">25</text>
<text transform="translate(731.58 1145.35) scale(0.938 1)">27</text>
<text transform="translate(834.38 1145.1) scale(0.938 1)">29</text>
<text transform="translate(936.38 1145.1) scale(0.938 1)">31</text>
</g>
<g font-size="25.8">
<text x="434.47" y="1181.25" textLength="205.25" lengthAdjust="spacingAndGlyphs">Displacement (ton)</text>
<text x="261.26" y="696.9" textLength="210.76" lengthAdjust="spacingAndGlyphs">y = 0.0614x + 0.9569</text>
<text x="308.3" y="725.6" textLength="115.58" lengthAdjust="spacingAndGlyphs">R² = 0.9885</text>
</g>
<text transform="translate(65.4 938.29) rotate(-90)" font-size="26.8" textLength="108.86" lengthAdjust="spacingAndGlyphs">Depth (m)</text>
</g>
</g>
<g id="panel-d">
<g fill="#FF7C80">
<circle cx="1251.4" cy="922.6" r="7.0"/>
<circle cx="1254.9" cy="922.6" r="7.0"/>
<circle cx="1258.4" cy="922.6" r="7.0"/>
<circle cx="1274.4" cy="920.8" r="7.0"/>
<circle cx="1277.1" cy="920.9" r="7.0"/>
<circle cx="1279.8" cy="921" r="7.0"/>
<circle cx="1282.1" cy="921.1" r="7.0"/>
<circle cx="1284.3" cy="921.3" r="7.0"/>
<circle cx="1292.3" cy="916.8" r="7.0"/>
<circle cx="1294.5" cy="917.1" r="7.0"/>
<circle cx="1296.8" cy="917.3" r="7.0"/>
<circle cx="1298.8" cy="917.1" r="7.0"/>
<circle cx="1299.8" cy="915.8" r="7.0"/>
<circle cx="1300.8" cy="916.8" r="7.0"/>
<circle cx="1301.8" cy="915.6" r="7.0"/>
<circle cx="1302.8" cy="914.3" r="7.0"/>
<circle cx="1303.8" cy="916.3" r="7.0"/>
<circle cx="1304.8" cy="915.1" r="7.0"/>
<circle cx="1306.7" cy="915.8" r="7.0"/>
<circle cx="1308.7" cy="915.3" r="7.0"/>
<circle cx="1310.7" cy="914.8" r="7.0"/>
<circle cx="1314.2" cy="914.8" r="7.0"/>
<circle cx="1317.7" cy="914.8" r="7.0"/>
<circle cx="1320.2" cy="915.3" r="7.0"/>
<circle cx="1322.7" cy="915.8" r="7.0"/>
<circle cx="1324.9" cy="916.3" r="7.0"/>
<circle cx="1327.2" cy="916.8" r="7.0"/>
<circle cx="1333.7" cy="912.3" r="7.0"/>
<circle cx="1335.6" cy="912.6" r="7.0"/>
<circle cx="1337.6" cy="912.8" r="7.0"/>
<circle cx="1339.6" cy="912.8" r="7.0"/>
<circle cx="1341.1" cy="912.6" r="7.0"/>
<circle cx="1343.1" cy="912.6" r="7.0"/>
<circle cx="1344.6" cy="912.3" r="7.0"/>
<circle cx="1355.6" cy="907.8" r="7.0"/>
<circle cx="1358.1" cy="907.8" r="7.0"/>
<circle cx="1360.6" cy="907.8" r="7.0"/>
<circle cx="1362.6" cy="907.8" r="7.0"/>
<circle cx="1364.5" cy="907.8" r="7.0"/>
<circle cx="1380.5" cy="906.3" r="7.0"/>
<circle cx="1382.5" cy="905.1" r="7.0"/>
<circle cx="1384.5" cy="903.8" r="7.0"/>
<circle cx="1387" cy="904.3" r="7.0"/>
<circle cx="1389.5" cy="904.8" r="7.0"/>
<circle cx="1392" cy="904.6" r="7.0"/>
<circle cx="1394.4" cy="904.3" r="7.0"/>
<circle cx="1396.9" cy="904.3" r="7.0"/>
<circle cx="1399.4" cy="904.3" r="7.0"/>
<circle cx="1401.9" cy="904.3" r="7.0"/>
<circle cx="1404.4" cy="904.3" r="7.0"/>
<circle cx="1406.9" cy="903.8" r="7.0"/>
<circle cx="1409.4" cy="903.3" r="7.0"/>
<circle cx="1411.9" cy="902.6" r="7.0"/>
<circle cx="1414.4" cy="901.9" r="7.0"/>
<circle cx="1422.3" cy="902.4" r="7.0"/>
<circle cx="1430.3" cy="899.9" r="7.0"/>
<circle cx="1432.2" cy="899.9" r="7.0"/>
<circle cx="1434" cy="900" r="7.0"/>
<circle cx="1436.5" cy="899.7" r="7.0"/>
<circle cx="1439" cy="899.3" r="7.0"/>
<circle cx="1441.5" cy="898.8" r="7.0"/>
<circle cx="1444" cy="898.3" r="7.0"/>
<circle cx="1446.5" cy="898.3" r="7.0"/>
<circle cx="1448.9" cy="898.3" r="7.0"/>
<circle cx="1451.4" cy="898.2" r="7.0"/>
<circle cx="1453.9" cy="898.1" r="7.0"/>
<circle cx="1455.9" cy="898.1" r="7.0"/>
<circle cx="1457.9" cy="898.1" r="7.0"/>
<circle cx="1459.9" cy="898.1" r="7.0"/>
<circle cx="1461.9" cy="898.1" r="7.0"/>
<circle cx="1478.3" cy="895.8" r="7.0"/>
<circle cx="1480.6" cy="895.9" r="7.0"/>
<circle cx="1482.8" cy="896" r="7.0"/>
<circle cx="1485.3" cy="896" r="7.0"/>
<circle cx="1487.8" cy="896" r="7.0"/>
<circle cx="1490.3" cy="896" r="7.0"/>
<circle cx="1492.8" cy="896" r="7.0"/>
<circle cx="1494.8" cy="895.9" r="7.0"/>
<circle cx="1496.8" cy="895.8" r="7.0"/>
<circle cx="1498.8" cy="893.6" r="7.0"/>
<circle cx="1500.8" cy="891.3" r="7.0"/>
<circle cx="1512.7" cy="891.8" r="7.0"/>
<circle cx="1515.7" cy="891.8" r="7.0"/>
<circle cx="1531.2" cy="891.8" r="7.0"/>
<circle cx="1534.4" cy="891.8" r="7.0"/>
<circle cx="1537.6" cy="891.8" r="7.0"/>
<circle cx="1539.6" cy="889.8" r="7.0"/>
<circle cx="1541.6" cy="888.6" r="7.0"/>
<circle cx="1543.6" cy="887.4" r="7.0"/>
<circle cx="1546.1" cy="887.9" r="7.0"/>
<circle cx="1548.6" cy="888.3" r="7.0"/>
<circle cx="1551.1" cy="888.1" r="7.0"/>
<circle cx="1553.6" cy="887.9" r="7.0"/>
<circle cx="1557.1" cy="887.9" r="7.0"/>
<circle cx="1560.6" cy="887.9" r="7.0"/>
<circle cx="1562.6" cy="887.9" r="7.0"/>
<circle cx="1564.5" cy="888" r="7.0"/>
<circle cx="1566.5" cy="887.9" r="7.0"/>
<circle cx="1568.5" cy="887.9" r="7.0"/>
<circle cx="1571" cy="886.6" r="7.0"/>
<circle cx="1573.5" cy="885.4" r="7.0"/>
<circle cx="1575.5" cy="885.4" r="7.0"/>
<circle cx="1577.5" cy="885.4" r="7.0"/>
<circle cx="1586.5" cy="883.9" r="7.0"/>
<circle cx="1610.4" cy="883.9" r="7.0"/>
<circle cx="1618.4" cy="881.4" r="7.0"/>
<circle cx="1620.8" cy="881.5" r="7.0"/>
<circle cx="1623.3" cy="881.7" r="7.0"/>
<circle cx="1625.8" cy="881.8" r="7.0"/>
<circle cx="1628.3" cy="881.9" r="7.0"/>
<circle cx="1631.1" cy="881.8" r="7.0"/>
<circle cx="1634" cy="881.8" r="7.0"/>
<circle cx="1636" cy="881.9" r="7.0"/>
<circle cx="1637.9" cy="882" r="7.0"/>
<circle cx="1639.9" cy="881.9" r="7.0"/>
<circle cx="1641.9" cy="881.8" r="7.0"/>
<circle cx="1644.9" cy="881.6" r="7.0"/>
<circle cx="1647.9" cy="881.3" r="7.0"/>
<circle cx="1650.9" cy="880.6" r="7.0"/>
<circle cx="1653.9" cy="879.8" r="7.0"/>
<circle cx="1660.9" cy="875.8" r="7.0"/>
<circle cx="1664.4" cy="875.6" r="7.0"/>
<circle cx="1667.8" cy="875.3" r="7.0"/>
<circle cx="1670.3" cy="875.3" r="7.0"/>
<circle cx="1672.8" cy="875.3" r="7.0"/>
<circle cx="1689.8" cy="875.8" r="7.0"/>
<circle cx="1692.3" cy="874.8" r="7.0"/>
<circle cx="1694.7" cy="873.8" r="7.0"/>
<circle cx="1696.7" cy="873.7" r="7.0"/>
<circle cx="1698.7" cy="873.6" r="7.0"/>
<circle cx="1700.7" cy="873.5" r="7.0"/>
<circle cx="1702.7" cy="873.3" r="7.0"/>
<circle cx="1710.7" cy="871.8" r="7.0"/>
<circle cx="1714.2" cy="870.8" r="7.0"/>
<circle cx="1717.7" cy="869.8" r="7.0"/>
<circle cx="1720.2" cy="868.6" r="7.0"/>
<circle cx="1722.7" cy="867.4" r="7.0"/>
<circle cx="1738.6" cy="864.9" r="7.0"/>
<circle cx="1747.6" cy="864.9" r="7.0"/>
<circle cx="1751.1" cy="864.9" r="7.0"/>
<circle cx="1754.5" cy="864.9" r="7.0"/>
<circle cx="1771.5" cy="865.4" r="7.0"/>
<circle cx="1778.5" cy="862.9" r="7.0"/>
<circle cx="1781.4" cy="860.9" r="7.0"/>
<circle cx="1784.4" cy="858.9" r="7.0"/>
<circle cx="1786.4" cy="858.9" r="7.0"/>
<circle cx="1788.4" cy="858.9" r="7.0"/>
<circle cx="1790.4" cy="858.9" r="7.0"/>
<circle cx="1792.4" cy="858.9" r="7.0"/>
<circle cx="1801.4" cy="857.4" r="7.0"/>
<circle cx="1804.4" cy="856.6" r="7.0"/>
<circle cx="1807.4" cy="855.9" r="7.0"/>
<circle cx="1816.3" cy="852.9" r="7.0"/>
<circle cx="1840.4" cy="853.1" r="7.0"/>
<circle cx="1859.3" cy="853" r="7.0"/>
<circle cx="1862.1" cy="853" r="7.0"/>
<circle cx="1865" cy="853" r="7.0"/>
</g>
<g fill="#06060f">
<circle cx="1251.6" cy="921.6" r="2.25"/>
<circle cx="1259.73" cy="920.68" r="2.25"/>
<circle cx="1267.85" cy="919.76" r="2.25"/>
<circle cx="1275.98" cy="918.84" r="2.25"/>
<circle cx="1284.1" cy="917.92" r="2.25"/>
<circle cx="1292.23" cy="917" r="2.25"/>
<circle cx="1300.35" cy="916.08" r="2.25"/>
<circle cx="1308.48" cy="915.16" r="2.25"/>
<circle cx="1316.6" cy="914.24" r="2.25"/>
<circle cx="1324.73" cy="913.32" r="2.25"/>
<circle cx="1332.85" cy="912.4" r="2.25"/>
<circle cx="1340.98" cy="911.48" r="2.25"/>
<circle cx="1349.1" cy="910.56" r="2.25"/>
<circle cx="1357.23" cy="909.64" r="2.25"/>
<circle cx="1365.35" cy="908.72" r="2.25"/>
<circle cx="1373.48" cy="907.8" r="2.25"/>
<circle cx="1381.61" cy="906.88" r="2.25"/>
<circle cx="1389.73" cy="905.96" r="2.25"/>
<circle cx="1397.86" cy="905.04" r="2.25"/>
<circle cx="1405.98" cy="904.12" r="2.25"/>
<circle cx="1414.11" cy="903.2" r="2.25"/>
<circle cx="1422.23" cy="902.28" r="2.25"/>
<circle cx="1430.36" cy="901.36" r="2.25"/>
<circle cx="1438.48" cy="900.44" r="2.25"/>
<circle cx="1446.61" cy="899.52" r="2.25"/>
<circle cx="1454.73" cy="898.6" r="2.25"/>
<circle cx="1462.86" cy="897.68" r="2.25"/>
<circle cx="1470.98" cy="896.76" r="2.25"/>
<circle cx="1479.11" cy="895.84" r="2.25"/>
<circle cx="1487.23" cy="894.92" r="2.25"/>
<circle cx="1495.36" cy="894" r="2.25"/>
<circle cx="1503.49" cy="893.08" r="2.25"/>
<circle cx="1511.61" cy="892.16" r="2.25"/>
<circle cx="1519.74" cy="891.24" r="2.25"/>
<circle cx="1527.86" cy="890.32" r="2.25"/>
<circle cx="1535.99" cy="889.4" r="2.25"/>
<circle cx="1544.11" cy="888.48" r="2.25"/>
<circle cx="1552.24" cy="887.56" r="2.25"/>
<circle cx="1560.36" cy="886.64" r="2.25"/>
<circle cx="1568.49" cy="885.72" r="2.25"/>
<circle cx="1576.61" cy="884.8" r="2.25"/>
<circle cx="1584.74" cy="883.88" r="2.25"/>
<circle cx="1592.86" cy="882.96" r="2.25"/>
<circle cx="1600.99" cy="882.04" r="2.25"/>
<circle cx="1609.11" cy="881.12" r="2.25"/>
<circle cx="1617.24" cy="880.2" r="2.25"/>
<circle cx="1625.37" cy="879.28" r="2.25"/>
<circle cx="1633.49" cy="878.36" r="2.25"/>
<circle cx="1641.62" cy="877.44" r="2.25"/>
<circle cx="1649.74" cy="876.52" r="2.25"/>
<circle cx="1657.87" cy="875.6" r="2.25"/>
<circle cx="1665.99" cy="874.68" r="2.25"/>
<circle cx="1674.12" cy="873.76" r="2.25"/>
<circle cx="1682.24" cy="872.84" r="2.25"/>
<circle cx="1690.37" cy="871.92" r="2.25"/>
<circle cx="1698.49" cy="871" r="2.25"/>
<circle cx="1706.62" cy="870.08" r="2.25"/>
<circle cx="1714.74" cy="869.16" r="2.25"/>
<circle cx="1722.87" cy="868.24" r="2.25"/>
<circle cx="1730.99" cy="867.32" r="2.25"/>
<circle cx="1739.12" cy="866.4" r="2.25"/>
<circle cx="1747.25" cy="865.48" r="2.25"/>
<circle cx="1755.37" cy="864.56" r="2.25"/>
<circle cx="1763.5" cy="863.64" r="2.25"/>
<circle cx="1771.62" cy="862.72" r="2.25"/>
<circle cx="1779.75" cy="861.8" r="2.25"/>
<circle cx="1787.87" cy="860.88" r="2.25"/>
<circle cx="1796" cy="859.96" r="2.25"/>
<circle cx="1804.12" cy="859.04" r="2.25"/>
<circle cx="1812.25" cy="858.12" r="2.25"/>
<circle cx="1820.37" cy="857.2" r="2.25"/>
<circle cx="1828.5" cy="856.28" r="2.25"/>
<circle cx="1836.62" cy="855.36" r="2.25"/>
<circle cx="1844.75" cy="854.44" r="2.25"/>
<circle cx="1852.87" cy="853.52" r="2.25"/>
<circle cx="1861" cy="852.6" r="2.25"/>
</g>
<g stroke="#000" fill="none">
<path d="M1152.3 642.5 H1936.2 L1939.2 642.1 H1982.1" stroke-width="2.9"/>
<path d="M1152.3 1110.6 H1936.2 L1939.2 1110.2 H1980.6" stroke-width="2.9"/>
<path d="M1160.5 642.5 V1116.9 M1980.6 642.1 V1116.5" stroke-width="3.0"/>
<path d="M1211.6 1110.6v4.1M1262.5 1110.6v6.3M1314 1110.6v4.1M1365 1110.6v6.3M1416.25 1110.6v4.1M1467.25 1110.6v6.3M1518.5 1110.6v4.1M1569.4 1110.6v6.3M1620.6 1110.6v4.1M1671.5 1110.6v6.3M1722.9 1110.6v4.1M1773.75 1110.6v6.3M1825.1 1110.6v4.1M1876.25 1110.6v6.3M1927.25 1110.6v4.1" stroke-width="3.0"/>
<path d="M1160.5 759.1h-5.7M1160.5 875.45h-8.2M1160.5 994.15h-5.7" stroke-width="2.9"/>
</g>
<g font-family="'Liberation Serif','DejaVu Serif',serif" fill="#000">
<text x="1036.2" y="683.4" font-size="54" font-weight="bold">d)</text>
<g font-size="25.8">
<text transform="translate(1127.15 652.15) scale(0.95 1)">2</text>
<text transform="translate(1125.3 885.2) scale(0.95 1)">1</text>
<text transform="translate(1127.2 1117.85) scale(0.95 1)">0</text>
</g>
<g font-size="25.2">
<text transform="translate(1148.72 1146.85) scale(0.943 1)">15</text>
<text transform="translate(1250.75 1147.1) scale(0.943 1)">17</text>
<text transform="translate(1353.58 1146.85) scale(0.943 1)">19</text>
<text transform="translate(1454.92 1147.1) scale(0.943 1)">21</text>
<text transform="translate(1557.3 1146.85) scale(0.943 1)">23</text>
<text transform="translate(1660 1146.85) scale(0.943 1)">25</text>
<text transform="translate(1762.5 1147.1) scale(0.943 1)">27</text>
<text transform="translate(1865 1146.85) scale(0.943 1)">29</text>
<text transform="translate(1966.5 1146.85) scale(0.943 1)">31</text>
</g>
<g font-size="25.8">
<text x="1465.08" y="1183.75" textLength="204.65" lengthAdjust="spacingAndGlyphs">Displacement (ton)</text>
<text x="1308.11" y="698.75" textLength="210.05" lengthAdjust="spacingAndGlyphs">y = 0.0246x + 0.3934</text>
<text x="1355.14" y="727.5" textLength="116.18" lengthAdjust="spacingAndGlyphs">R² = 0.9924</text>
</g>
<text transform="translate(1095.4 930.89) rotate(-90)" font-size="26.8" textLength="100.51" lengthAdjust="spacingAndGlyphs">Draft (m)</text>
</g>
</g>
</svg>
</body>
</html>
